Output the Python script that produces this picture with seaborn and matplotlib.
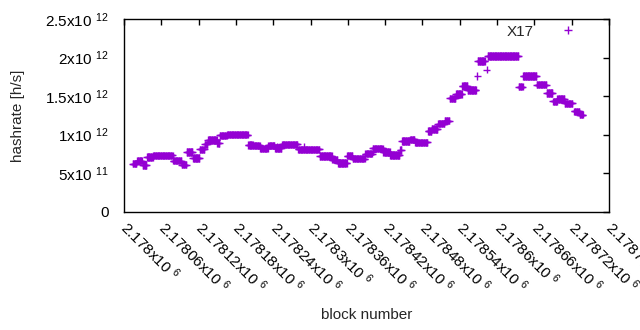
import numpy as np
import pandas as pd
import matplotlib
matplotlib.use("Agg")
import matplotlib.pyplot as plt
import seaborn as sns

# ---- data ----
base_block = 2178000
# run-length segments: start offset, end offset (exclusive), hashrate
seg_start = [14, 21, 30, 37, 47, 79, 93, 101, 111, 122, 130, 135, 150, 154, 166,
             200, 208, 219, 232, 243, 254, 280, 315, 335, 344, 359, 368, 388, 400,
             417, 428, 444, 447, 460, 468, 489, 495, 505, 516, 524, 534, 544, 553,
             569, 585, 635, 642, 664, 680, 690, 697, 709, 724, 733]
seg_end = [21, 30, 37, 47, 79, 93, 101, 111, 122, 130, 135, 150, 154, 166, 200,
           208, 219, 232, 243, 254, 280, 315, 335, 344, 359, 368, 388, 400, 417,
           428, 444, 447, 460, 468, 489, 495, 505, 516, 524, 534, 544, 553, 567,
           581, 635, 642, 664, 680, 690, 697, 709, 722, 733, 739]
seg_value = [6.25e11, 6.6e11, 6.06e11, 7.1e11, 7.3e11, 6.64e11, 6.12e11, 7.75e11,
             6.97e11, 8.07e11, 8.72e11, 9.3e11, 8.91e11, 9.89e11, 1.0e12,
             8.65e11, 8.59e11, 8.2e11, 8.59e11, 8.26e11, 8.72e11, 8.07e11,
             7.23e11, 6.77e11, 6.32e11, 7.29e11, 6.9e11, 7.55e11, 8.2e11,
             7.75e11, 7.36e11, 8.0e11, 9.17e11, 9.37e11, 8.98e11, 1.047e12,
             1.073e12, 1.144e12, 1.183e12, 1.469e12, 1.527e12, 1.631e12,
             1.579e12, 1.955e12, 2.02e12, 1.624e12, 1.76e12, 1.65e12, 1.54e12,
             1.43e12, 1.462e12, 1.404e12, 1.30e12, 1.26e12]
# isolated points
extra_block = [568, 583, 290, 246, 400]
extra_value = [1.76e12, 1.84e12, 8.4e11, 8.5e11, 7.8e11]

series_name = "X17"
x_ticks = [2178000 + 60 * k for k in range(14)]
x_tick_labels = ["2.178", "2.17806", "2.17812", "2.17818", "2.17824", "2.1783",
                 "2.17836", "2.17842", "2.17848", "2.17854", "2.1786", "2.17866",
                 "2.17872", "2.17878"]
y_ticks = [0, 5e11, 1e12, 1.5e12, 2e12, 2.5e12]
y_tick_mant = ["0", "5", "1", "1.5", "2", "2.5"]
y_tick_exp = [None, "11", "12", "12", "12", "12"]

# ---- expand segments into per-block points ----
blocks, values = [], []
for s, e, v in zip(seg_start, seg_end, seg_value):
    for b in range(s, e):
        blocks.append(base_block + b)
        values.append(v)
for b, v in zip(extra_block, extra_value):
    blocks.append(base_block + b)
    values.append(v)
df = pd.DataFrame({"block": blocks, "hashrate": values, "series": series_name})

# ---- style ----
sns.set_style("white")
plt.rcParams["font.family"] = ["Liberation Sans", "DejaVu Sans"]
plt.rcParams["mathtext.fontset"] = "custom"
plt.rcParams["mathtext.rm"] = "Liberation Sans"
plt.rcParams["mathtext.it"] = "Liberation Sans:italic"
plt.rcParams["mathtext.bf"] = "Liberation Sans:bold"

fig = plt.figure(figsize=(6.4, 3.3), dpi=100)
ax = fig.add_axes([124 / 640, 1 - 211.7 / 330, (609 - 124) / 640, (211.7 - 19) / 330])

sns.scatterplot(data=df, x="block", y="hashrate", hue="series",
                palette=["#9400d3"], marker="+", s=26, linewidth=1.0,
                ax=ax, legend=True)

ax.set_xlim(2178000, 2178780)
ax.set_ylim(0, 2.5e12)

ax.set_xticks(x_ticks)
ax.set_xticklabels([r"$\mathrm{%sx10\ }^{6}$" % t for t in x_tick_labels],
                   rotation=-45, ha="left", va="center", rotation_mode="anchor")
ax.set_yticks(y_ticks)
ylabels = []
for m, e in zip(y_tick_mant, y_tick_exp):
    ylabels.append(m if e is None else r"$\mathrm{%sx10\ }^{%s}$" % (m, e))
ax.set_yticklabels(ylabels)

ax.tick_params(direction="in", length=4, width=1, top=True, right=True,
               labelsize=11, colors="black")
ax.tick_params(axis="x", pad=9)
ax.tick_params(axis="y", pad=11)
for sp in ax.spines.values():
    sp.set_color("black")
    sp.set_linewidth(1)

ax.set_xlabel("block number", fontsize=11)
ax.xaxis.set_label_coords(0.5, -0.50)
ax.set_ylabel("hashrate [h/s]", fontsize=11)
ax.yaxis.set_label_coords(-0.205, 0.5)

leg = ax.legend(loc="upper right", frameon=False, fontsize=11, markerfirst=False,
                bbox_to_anchor=(0.968, 1.026), handletextpad=1.2, borderpad=0.2)

fig.savefig("out.png", dpi=100, facecolor="white")
